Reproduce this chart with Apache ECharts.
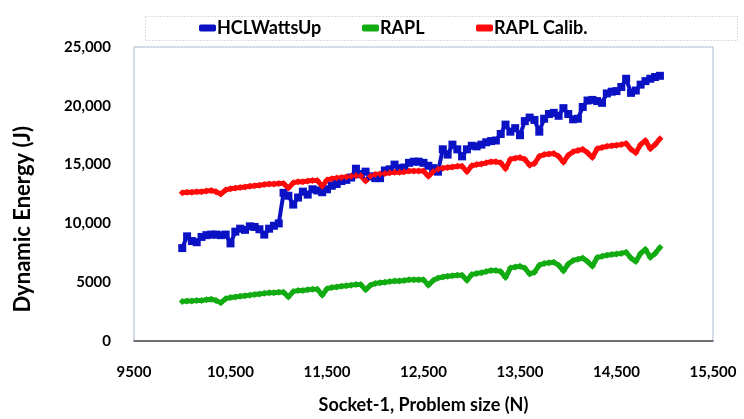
<!DOCTYPE html>
<html>
<head>
<meta charset="utf-8">
<script src="https://cdn.jsdelivr.net/npm/echarts@6/dist/echarts.min.js"></script>
<style>
  html, body { margin: 0; padding: 0; background: #fff; }
  #chart { width: 744px; height: 419px; }
</style>
</head>
<body>
<div id="chart"></div>
<script>
// problem sizes N: 10000 .. 14950, step 50
const problemSizes = [];
for (let n = 10000; n <= 14950; n += 50) problemSizes.push(n);

const hclWattsUp = [
    7900, 8900, 8500, 8400, 8850, 9000, 9050, 9050, 9000, 9050,
    8300, 9300, 9550, 9450, 9750, 9700, 9500, 9050, 9550, 9800,
    10000, 12600, 12350, 11600, 12200, 12700, 12450, 12900, 12800, 12650,
    12900, 13200, 13350, 13600, 13700, 13900, 14650, 14200, 14400, 14000,
    13850, 13850, 14500, 14600, 15000, 14700, 14750, 15150, 15250, 15250,
    15150, 14900, 14700, 14400, 16300, 15850, 16700, 16300, 15700, 16300,
    16600, 16550, 16700, 16900, 17000, 17050, 17600, 18400, 17800, 18100,
    17500, 18700, 19000, 18800, 17800, 18900, 19300, 19400, 19150, 19800,
    19300, 18850, 18900, 19900, 20450, 20500, 20400, 20250, 21050, 21200,
    21250, 21600, 22300, 21100, 21300, 21800, 22100, 22300, 22450, 22550
];

const rapl = [
    3350, 3400, 3400, 3450, 3450, 3500, 3550, 3450, 3250, 3600,
    3700, 3750, 3800, 3850, 3900, 3950, 4000, 4050, 4100, 4100,
    4150, 4150, 3750, 4200, 4300, 4300, 4350, 4400, 4400, 3900,
    4450, 4550, 4600, 4650, 4700, 4750, 4800, 4800, 4350, 4750,
    4900, 4950, 5000, 5050, 5100, 5100, 5150, 5200, 5200, 5200,
    5200, 4750, 5150, 5350, 5450, 5500, 5550, 5600, 5600, 5150,
    5650, 5750, 5800, 5900, 6000, 6000, 5900, 5400, 6200, 6300,
    6350, 6200, 5700, 5850, 6450, 6600, 6650, 6700, 6450, 5950,
    6550, 6850, 6950, 7050, 6750, 6350, 7100, 7200, 7300, 7350,
    7400, 7450, 7550, 7050, 6750, 7450, 7800, 7100, 7450, 7950
];

const raplCalib = [
    12600, 12650, 12650, 12700, 12700, 12750, 12800, 12700, 12500, 12850,
    12950, 13000, 13050, 13100, 13150, 13200, 13250, 13300, 13350, 13350,
    13400, 13400, 13000, 13450, 13550, 13550, 13600, 13650, 13650, 13150,
    13700, 13800, 13850, 13900, 13950, 14000, 14050, 14050, 13600, 14000,
    14150, 14200, 14250, 14300, 14350, 14350, 14400, 14450, 14450, 14450,
    14450, 14000, 14400, 14600, 14700, 14750, 14800, 14850, 14850, 14400,
    14900, 15000, 15050, 15150, 15250, 15250, 15150, 14650, 15450, 15550,
    15600, 15450, 14950, 15100, 15700, 15850, 15900, 15950, 15700, 15200,
    15800, 16100, 16200, 16300, 16000, 15600, 16350, 16450, 16550, 16600,
    16650, 16700, 16800, 16300, 16000, 16700, 17050, 16350, 16700, 17200
];

const seriesNames = ['HCLWattsUp', 'RAPL', 'RAPL Calib.'];
const seriesColors = ['#0a12c4', '#12ac12', '#ff0a0a'];

const FONT = 'Lato';

function fmt(v) {
    return v >= 10000 ? v.toLocaleString('en-US') : String(v);
}

function pairs(values) {
    return values.map((v, i) => [problemSizes[i], v]);
}

const myChart = echarts.init(document.getElementById('chart'), null, { renderer: 'canvas' });

function legendFor(name, left) {
    return {
        data: [name],
        left: left,
        top: 19,
        icon: 'roundRect',
        itemWidth: 17,
        itemHeight: 7,
        itemGap: 0,
        padding: 0,
        textStyle: { fontFamily: FONT, fontWeight: 'bold', fontSize: 18, color: '#000', padding: [0, 0, 0, -4] }
    };
}

const option = {
    backgroundColor: '#fff',
    animation: false,
    graphic: [
        {
            type: 'rect',
            shape: { x: 145.5, y: 16.5, width: 592, height: 24 },
            style: { fill: 'none', stroke: '#bdbdbd', lineWidth: 1, lineDash: [1, 2] }
        },
        {
            type: 'text',
            left: 12,
            top: 126,
            rotation: Math.PI / 2,
            style: {
                text: 'Dynamic Energy (J)',
                fontFamily: FONT, fontWeight: 'bold', fontSize: 22, fill: '#000'
            }
        }
    ],
    legend: [
        legendFor(seriesNames[0], 199),
        legendFor(seriesNames[1], 362),
        legendFor(seriesNames[2], 476)
    ],
    grid: {
        left: 134, right: 31, top: 47, bottom: 72,
        show: true,
        borderColor: '#a9b8cf',
        borderWidth: 1
    },
    xAxis: {
        type: 'value',
        min: 9500, max: 15500, interval: 1000,
        name: 'Socket-1, Problem size (N)',
        nameLocation: 'middle',
        nameGap: 55,
        nameTextStyle: { fontFamily: FONT, fontWeight: 'bold', fontSize: 18, color: '#000' },
        axisLine: { show: true, lineStyle: { color: '#4d4d4d', width: 1.5 } },
        axisTick: { show: false },
        splitLine: { show: false },
        axisLabel: {
            margin: 24,
            fontFamily: FONT, fontWeight: 'bold', fontSize: 15, color: '#000',
            formatter: fmt
        }
    },
    yAxis: {
        type: 'value',
        min: 0, max: 25000, interval: 5000,
        axisLine: { show: false },
        axisTick: { show: false },
        splitLine: { show: false },
        axisLabel: {
            margin: 23,
            fontFamily: FONT, fontWeight: 'bold', fontSize: 15, color: '#000',
            formatter: fmt
        }
    },
    series: [
        {
            name: seriesNames[0], type: 'line', data: pairs(hclWattsUp),
            color: seriesColors[0],
            lineStyle: { width: 4 },
            symbol: 'rect', symbolSize: 8, showAllSymbol: true,
            itemStyle: { color: seriesColors[0] }
        },
        {
            name: seriesNames[1], type: 'line', data: pairs(rapl),
            color: seriesColors[1],
            lineStyle: { width: 5 },
            symbol: 'diamond', symbolSize: 7, showAllSymbol: true,
            itemStyle: { color: seriesColors[1] }
        },
        {
            name: seriesNames[2], type: 'line', data: pairs(raplCalib),
            color: seriesColors[2],
            lineStyle: { width: 5 },
            symbol: 'diamond', symbolSize: 7, showAllSymbol: true,
            itemStyle: { color: seriesColors[2] }
        }
    ]
};

option && myChart.setOption(option);
</script>
</body>
</html>
